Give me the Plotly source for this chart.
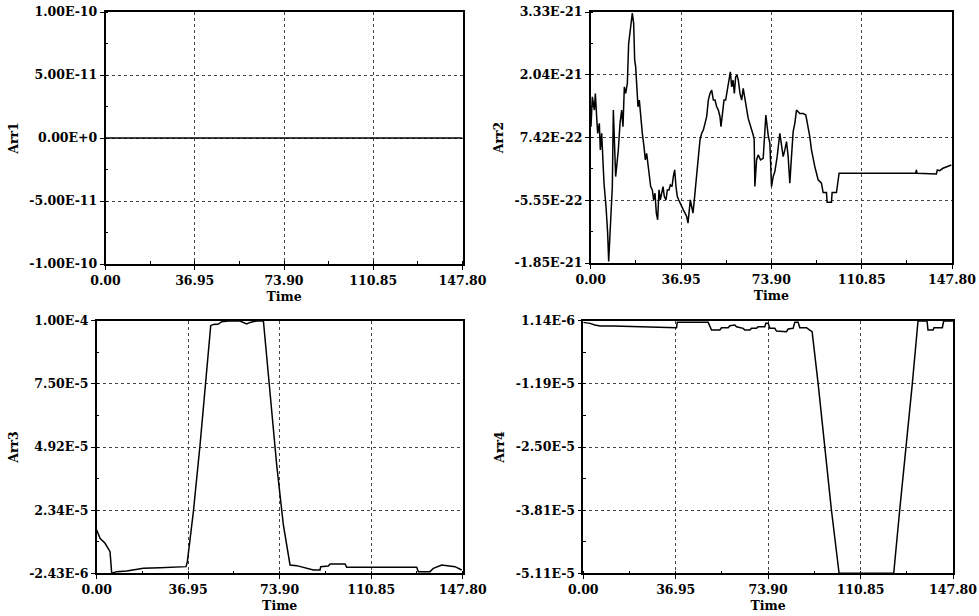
import plotly.graph_objects as go
import numpy as np

# ---------------- data ----------------
TIME_TICKS = [0.0, 36.95, 73.90, 110.85, 147.80]
TIME_TICK_TEXT = ["0.00", "36.95", "73.90", "110.85", "147.80"]

# Arr1 (flat at zero)
t1 = [0.0, 147.80]
v1 = [0.0, 0.0]
ARR1_TICK_TEXT = ["-1.00E-10", "-5.00E-11", "0.00E+0", "5.00E-11", "1.00E-10"]
ARR1_RANGE = [-1.00e-10, 1.00e-10]

# Arr2 (values in units of 1e-21)
ARR2_UNIT = 1e-21
t2 = [0.12, 0.67, 1.49, 1.90, 2.44, 2.85, 3.53, 3.94, 4.49, 4.90,
      5.44, 6.26, 6.94, 7.35, 7.90, 8.30, 8.85, 9.26, 9.67, 10.21,
      10.76, 11.30, 11.99, 12.67, 13.21, 13.76, 14.30, 14.99, 15.53, 15.94,
      16.49, 17.03, 17.58, 17.99, 18.40, 18.94, 19.35, 19.89, 20.44, 21.12,
      21.80, 22.35, 22.89, 23.44, 23.99, 24.53, 25.21, 25.76, 26.30, 26.85,
      27.39, 27.94, 28.49, 29.03, 29.58, 30.12, 30.80, 31.35, 32.03, 32.58,
      33.26, 33.80, 34.35, 34.89, 35.44, 35.98, 36.53, 37.21, 37.89, 38.58,
      39.26, 39.80, 40.21, 40.76, 41.30, 41.85, 42.39, 42.94, 43.49, 44.17,
      44.71, 45.39, 46.08, 46.76, 47.44, 48.12, 48.80, 49.49, 50.17, 50.85,
      51.53, 52.21, 52.89, 53.30, 53.85, 54.53, 55.21, 55.89, 56.58, 57.12,
      57.67, 58.21, 58.76, 59.30, 59.85, 60.39, 61.07, 61.76,
      62.39, 63.75, 64.43, 66.48, 66.88, 67.16, 67.84, 68.52, 69.47, 70.56,
      71.24, 71.65, 72.60, 73.29, 73.97, 74.65, 75.33, 76.28, 77.37, 78.05,
      78.73, 79.42, 80.10, 80.78, 81.46, 82.14, 82.82, 83.50, 84.19, 85.55,
      86.91, 88.00, 88.95, 89.63, 90.31, 90.99, 91.68, 92.36, 93.04, 94.40,
      95.08, 96.44, 96.72, 98.49, 98.76, 100.53, 101.21, 101.62, 132.95, 133.23,
      133.50, 141.40, 141.80, 142.76, 144.12, 147.52]
v2 = [0.963, 1.58, 1.306, 1.649, 1.169, 0.826, 1.032, 0.483, 0.826, 0.414,
      -0.203, -0.684, -1.233, -1.816, -1.233, -0.821, -0.272, 1.306, 0.689, -0.066,
      0.208, 0.483, 1.032, 1.306, 0.963, 1.786, 1.649, 1.855, 2.678, 2.884,
      3.158, 3.31, 3.09, 2.335, 2.198, 1.649, 1.375, 1.512, 1.169, 0.826,
      0.551, 0.277, 0.414, 0.14, 0.002, -0.272, -0.341, -0.546, -0.409, -0.821,
      -0.958, -0.341, -0.546, -0.409, -0.272, -0.478, -0.546, -0.341, -0.341, -0.238,
      -0.272, -0.066, 0.071, -0.272, -0.478, -0.546, -0.615, -0.684, -0.752, -0.821,
      -0.89, -1.027, -0.821, -0.546, -0.684, -0.821, -0.546, -0.272, 0.14, 0.414,
      0.689, 0.826, 0.894, 1.032, 1.169, 1.512, 1.649, 1.718, 1.512, 1.512,
      1.375, 1.306, 1.169, 0.963, 1.237, 1.512, 1.512, 1.718, 1.855, 2.095,
      1.786, 1.923, 1.649, 1.992, 2.026, 1.923, 1.649, 1.512,
      1.752, 1.375, 1.134, 0.791, 0.689, -0.272, 0.277, 0.38, 0.277, 0.311,
      1.032, 1.203, 0.791, 0.62, -0.272, -0.066, 0.037, 0.345, 0.826, 0.551,
      0.345, 0.483, 0.654, 0.345, -0.203, 0.345, 0.86, 1.032, 1.306, 1.237,
      1.237, 1.203, 0.963, 0.757, 0.483, 0.277, 0.14, 0.002, -0.135, -0.203,
      -0.396, -0.396, -0.594, -0.594, -0.396, -0.396, -0.10, 0.002, 0.002, 0.071,
      0.002, -0.011, 0.071, 0.057, 0.105, 0.174]
ARR2_TICK_TEXT = ["-1.85E-21", "-5.55E-22", "7.42E-22", "2.04E-21", "3.33E-21"]
ARR2_RANGE = [-1.85e-21, 3.33e-21]

# Arr3 (values in units of 1e-5)
ARR3_UNIT = 1e-5
t3 = [0.0, 1.35, 3.37, 5.38, 6.06, 8.08, 12.11, 14.81, 18.85, 25.58,
      30.96, 36.08, 36.61, 39.04, 41.73, 43.75, 45.10, 46.04, 47.11, 49.13,
      50.48, 53.17, 57.88, 59.23, 60.58, 61.92, 64.61, 67.31, 68.65, 70.67,
      72.69, 75.38, 78.07, 80.77, 82.11, 87.50, 90.19, 90.46, 93.55, 94.23,
      100.28, 100.96, 129.23, 129.90, 134.61, 135.96, 139.32, 141.34, 144.71, 147.40]
v3 = [1.514, 1.176, 0.973, 0.635, -0.243, -0.176, -0.149, -0.108, -0.04, -0.013,
      0.0, 0.027, 0.23, 2.257, 4.96, 7.257, 8.743, 9.80, 9.85, 9.865,
      9.96, 9.99, 9.99, 9.93, 9.865, 9.93, 9.99, 10.0, 8.608, 6.446,
      4.149, 1.717, 0.095, 0.068, 0.027, -0.108, -0.108, 0.027, 0.054, 0.135,
      0.135, 0.0, 0.0, -0.176, -0.176, -0.04, 0.095, 0.068, 0.027, -0.108]
ARR3_TICK_TEXT = ["-2.43E-6", "2.34E-5", "4.92E-5", "7.50E-5", "1.00E-4"]
ARR3_RANGE = [-2.43e-6, 1.00e-4]

# Arr4 (values in units of 1e-5)
ARR4_UNIT = 1e-5
t4 = [0.0, 2.66, 4.66, 6.66, 11.98, 25.30, 35.95, 37.28, 37.55, 49.93,
      51.26, 54.59, 55.26, 57.92, 58.59, 60.58, 61.25, 63.91, 64.58, 66.58,
      67.24, 69.24, 69.90, 72.57, 72.97, 73.90, 74.56, 76.56, 77.23, 81.22,
      81.89, 83.88, 84.55, 85.88, 86.55, 89.21, 90.54, 91.48, 93.87, 96.53,
      99.20, 102.26, 124.10, 126.49, 129.16, 131.55, 133.81, 137.41, 137.81, 139.81,
      140.21, 143.54, 144.07, 147.80]
v4 = [0.0795, 0.059, 0.0244, 0.0037, 0.0037, -0.010, -0.0307, -0.0307, 0.0795, 0.0795,
      -0.079, -0.079, -0.0307, -0.0307, 0.0106, 0.0244, -0.010, -0.0445, -0.079, -0.079,
      -0.0445, -0.0445, -0.010, -0.010, 0.059, 0.059, -0.0445, -0.0445, -0.0996, -0.1134,
      -0.058, -0.0445, 0.0795, 0.0795, -0.0307, -0.0307, -0.079, -0.1134, -1.182, -2.491,
      -3.801, -5.11, -5.11, -3.801, -2.491, -1.182, 0.107, 0.107, -0.079, -0.079,
      -0.0307, -0.0307, 0.107, 0.107]
ARR4_TICK_TEXT = ["-5.11E-5", "-3.81E-5", "-2.50E-5", "-1.19E-5", "1.14E-6"]
ARR4_RANGE = [-5.11e-5, 1.14e-6]

# ---------------- figure ----------------
W, H = 979, 616
FONT = "DejaVu Serif"

panels = [
    dict(title="Arr1", t=t1, v=[y for y in v1], rng=ARR1_RANGE, txt=ARR1_TICK_TEXT,
         px=(105.5, 462.5), py=(12, 264)),
    dict(title="Arr2", t=t2, v=[y * ARR2_UNIT for y in v2], rng=ARR2_RANGE, txt=ARR2_TICK_TEXT,
         px=(590.7, 952.0), py=(12, 263)),
    dict(title="Arr3", t=t3, v=[y * ARR3_UNIT for y in v3], rng=ARR3_RANGE, txt=ARR3_TICK_TEXT,
         px=(96.7, 462.7), py=(320.7, 573.3)),
    dict(title="Arr4", t=t4, v=[y * ARR4_UNIT for y in v4], rng=ARR4_RANGE, txt=ARR4_TICK_TEXT,
         px=(583.3, 953.0), py=(320.7, 573.3)),
]

fig = go.Figure()
tickfont = dict(family=FONT, size=12.5, color="black", weight="bold")
titlefont = dict(family=FONT, size=12.5, color="black", weight="bold")

for i, p in enumerate(panels, start=1):
    xa = "x" if i == 1 else f"x{i}"
    ya = "y" if i == 1 else f"y{i}"
    fig.add_trace(go.Scatter(x=p["t"], y=p["v"], mode="lines",
                             line=dict(color="black", width=1.5),
                             xaxis=xa, yaxis=ya, showlegend=False,
                             hoverinfo="skip"))
    lo, hi = p["rng"]
    yticks = list(np.linspace(lo, hi, 5))
    ystep = (hi - lo) / 4
    xdom = [p["px"][0] / W, p["px"][1] / W]
    ydom = [1 - p["py"][1] / H, 1 - p["py"][0] / H]
    common = dict(showline=True, linecolor="black", linewidth=1.5, mirror=True,
                  ticks="outside", ticklen=4, tickwidth=1, tickcolor="black",
                  showgrid=True, gridcolor="#444444", griddash="dot", gridwidth=1,
                  zeroline=False, tickfont=tickfont, automargin=False)
    xkey = "xaxis" if i == 1 else f"xaxis{i}"
    ykey = "yaxis" if i == 1 else f"yaxis{i}"
    fig.update_layout(**{
        xkey: dict(domain=xdom, anchor=ya, range=[0, 147.8],
                   tickvals=TIME_TICKS, ticktext=TIME_TICK_TEXT,
                   title=dict(text="Time", font=titlefont, standoff=5),
                   minor=dict(ticks="inside", ticklen=3, tickcolor="black",
                              tick0=0, dtick=18.475, showgrid=False),
                   **common),
        ykey: dict(domain=ydom, anchor=xa, range=[lo, hi],
                   tickvals=yticks, ticktext=p["txt"],
                   title=dict(text=p["title"], font=titlefont, standoff=8),
                   minor=dict(ticks="inside", ticklen=3, tickcolor="black",
                              tick0=lo, dtick=ystep / 2, showgrid=False),
                   **common),
    })

fig.update_layout(width=W, height=H, margin=dict(l=0, r=0, t=0, b=0),
                  paper_bgcolor="white", plot_bgcolor="white")

fig.write_html("out.html", config={"displayModeBar": False},
               post_script="document.body.style.margin='0px';document.body.style.overflow='hidden';")
